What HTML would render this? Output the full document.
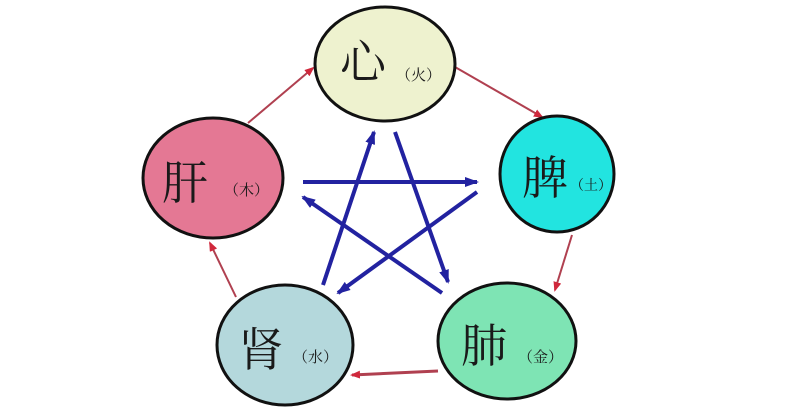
<!DOCTYPE html>
<html><head><meta charset="utf-8"><style>
html,body{margin:0;padding:0;background:#fff;}
svg{display:block}
text{font-family:"Liberation Serif","Noto Serif CJK SC",serif;fill:#1a1a1a}
</style></head><body>
<svg width="800" height="417" viewBox="0 0 800 417" xmlns="http://www.w3.org/2000/svg">
<defs>
<marker id="r" markerWidth="10" markerHeight="8" refX="8" refY="4" orient="auto" markerUnits="userSpaceOnUse"><path d="M0,0 L10,4 L0,8 Z" fill="#d0283c"/></marker>
<marker id="b" markerWidth="14" markerHeight="10" refX="12" refY="5" orient="auto" markerUnits="userSpaceOnUse"><path d="M0,0 L14,5 L0,10 Z" fill="#2222a0"/></marker>
</defs>
<g stroke="#b04050" stroke-width="2" fill="none">
<line x1="248" y1="123" x2="313" y2="68" marker-end="url(#r)"/>
<line x1="455" y1="67" x2="542" y2="117" marker-end="url(#r)"/>
<line x1="572" y1="235" x2="555" y2="290" marker-end="url(#r)"/>
<line x1="438" y1="371" x2="352" y2="375" marker-end="url(#r)" stroke-width="3"/>
<line x1="236" y1="297" x2="210" y2="243" marker-end="url(#r)"/>
</g>
<g stroke="#2222a0" stroke-width="4" fill="none">
<line x1="303" y1="182" x2="477" y2="182" marker-end="url(#b)"/>
<line x1="323" y1="285" x2="374" y2="132" marker-end="url(#b)"/>
<line x1="395" y1="132" x2="448" y2="282" marker-end="url(#b)"/>
<line x1="477" y1="192" x2="338" y2="293" marker-end="url(#b)"/>
<line x1="442" y1="293" x2="303" y2="197" marker-end="url(#b)"/>
</g>
<g stroke="#111" stroke-width="3">
<ellipse cx="385" cy="64" rx="70" ry="57" fill="#eef2cf"/>
<ellipse cx="557" cy="174" rx="57" ry="58" fill="#22e4e0"/>
<ellipse cx="507" cy="341" rx="69" ry="58" fill="#7ee4b4"/>
<ellipse cx="285" cy="345" rx="68" ry="60" fill="#b4d8dc"/>
<ellipse cx="213" cy="178" rx="70" ry="60" fill="#e47894"/>
</g>
<text x="340" y="78" font-size="46">心</text>
<text x="396" y="80" font-size="15">（火）</text>
<text x="522" y="194" font-size="46">脾</text>
<text x="570" y="190" font-size="14">（土）</text>
<text x="461" y="362" font-size="46">肺</text>
<text x="518" y="362" font-size="15">（金）</text>
<text x="238" y="366" font-size="46">肾</text>
<text x="293" y="362" font-size="15">（水）</text>
<text x="162" y="199" font-size="46">肝</text>
<text x="224" y="195" font-size="15">（木）</text>
</svg>
</body></html>
